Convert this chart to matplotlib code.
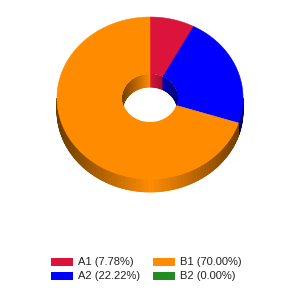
import numpy as np
import matplotlib
matplotlib.use("Agg")
import matplotlib.pyplot as plt
from matplotlib.patches import Polygon, Ellipse, Rectangle
from matplotlib.colors import to_rgb

# data
labels = ["A1", "A2", "B1", "B2"]
counts = [7, 20, 63, 0]
colors = ["#DC143C", "#0000FF", "#FF8C00", "#228B22"]

# geometry (pixels)
cx, cy = 150, 98
ra, rb = 93, 81
depth = 13
hole = 27.5 / 93

percents = np.array(counts) / sum(counts) * 100
ends = np.cumsum(percents) * 3.6
starts = ends - percents * 3.6


def pt(theta, f=1.0, dy=0.0):
    t = np.radians(theta)
    return cx + f * ra * np.sin(t), cy - f * rb * np.cos(t) + dy


def shade(rgb, k):
    return tuple(min(1, c * k) for c in rgb)


fig = plt.figure(figsize=(3, 3), dpi=100)
ax = fig.add_axes([0, 0, 1, 1])
ax.set_xlim(0, 300)
ax.set_ylim(300, 0)
ax.axis("off")

# outer side wall (front half), shaded by horizontal position
for s, e, col in zip(starts, ends, colors):
    lo, hi = max(s, 90), min(e, 270)
    if hi <= lo:
        continue
    base = to_rgb(col)
    th = np.linspace(lo, hi, int(hi - lo) + 2)
    for t1, t2 in zip(th[:-1], th[1:]):
        tm = (t1 + t2) / 2
        k = 1.0 - 0.58 * abs(np.sin(np.radians(tm)))
        c = shade(base, k)
        poly = [pt(t1), pt(t2), pt(t2, dy=depth), pt(t1, dy=depth)]
        ax.add_patch(Polygon(poly, closed=True, facecolor=c, edgecolor=c, lw=0.6))

# top face
for s, e, col in zip(starts, ends, colors):
    if e - s <= 0:
        continue
    th = np.linspace(s, e, max(int(e - s), 2) + 1)
    outer = [pt(t) for t in th]
    inner = [pt(t, hole) for t in th[::-1]]
    ax.add_patch(Polygon(outer + inner, closed=True, facecolor=col,
                         edgecolor=col, lw=0.4))

# hole and back inner wall
hole_patch = Ellipse((cx, cy), 2 * hole * ra, 2 * hole * rb,
                     facecolor="white", edgecolor="none")
ax.add_patch(hole_patch)
for s, e, col in zip(starts, ends, colors):
    base = to_rgb(col)
    for lo, hi in [(max(s, 0), min(e, 90)), (max(s, 270), min(e, 360))]:
        if hi <= lo:
            continue
        th = np.linspace(lo, hi, int(hi - lo) + 2)
        for t1, t2 in zip(th[:-1], th[1:]):
            tm = (t1 + t2) / 2
            k = 1.0 - 0.55 * abs(np.sin(np.radians(tm)))
            c = shade(base, k)
            poly = [pt(t1, hole), pt(t2, hole),
                    pt(t2, hole, depth), pt(t1, hole, depth)]
            p = Polygon(poly, closed=True, facecolor=c, edgecolor=c, lw=0.5)
            ax.add_patch(p)
            p.set_clip_path(hole_patch)

# legend
legend_pos = [(51, 258), (51, 272), (153, 258), (153, 272)]
for (lx, ly), lab, pc, col in zip(legend_pos, labels, percents, colors):
    ax.add_patch(Rectangle((lx, ly), 22, 8, facecolor=col, edgecolor="none"))
    ax.text(lx + 27, ly + 4, f"{lab} ({pc:.2f}%)", fontsize=8,
            family="Liberation Sans", va="center", ha="left", color="#222222")

fig.savefig("out.png", dpi=100)
